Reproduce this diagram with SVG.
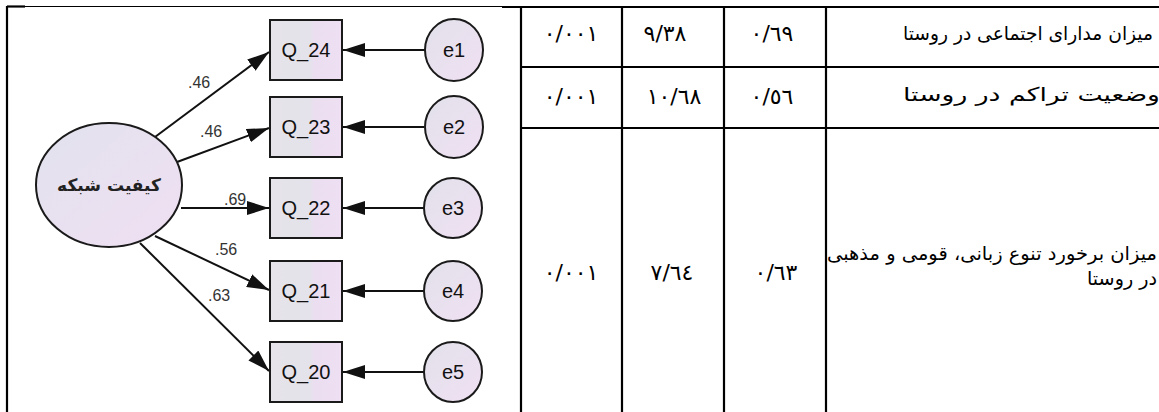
<svg xmlns="http://www.w3.org/2000/svg" width="1159" height="412" viewBox="0 0 1159 412">
<style>
.grid{stroke:#000;stroke-width:2.2;fill:none}
.box{stroke:#1a1a1a;stroke-width:2;fill:url(#boxfill)}
.err{stroke:#1a1a1a;stroke-width:2;fill:url(#cirfill)}
.lat{stroke:#1a1a1a;stroke-width:2;fill:url(#latfill)}
.con{stroke:#111;stroke-width:2;fill:none;marker-end:url(#ah)}
.lbl{font-family:"Liberation Sans",Arial,sans-serif;font-size:20px;fill:#111;text-anchor:middle}
.w{font-family:"Liberation Sans",Arial,sans-serif;font-size:16px;fill:#333}
.num{font-family:"DejaVu Sans",sans-serif;font-size:22px;fill:#000;text-anchor:middle}
.fa{font-family:"DejaVu Sans",sans-serif;font-size:19px;fill:#000;text-anchor:end}
</style>
<defs>
<linearGradient id="boxfill" x1="0" y1="0" x2="1" y2="0">
<stop offset="0" stop-color="#e6e4ea"/><stop offset="0.56" stop-color="#e4e2ea"/><stop offset="0.62" stop-color="#ecdef1"/><stop offset="1" stop-color="#eee0f2"/>
</linearGradient>
<linearGradient id="cirfill" x1="0" y1="0" x2="1" y2="1">
<stop offset="0" stop-color="#e2e1ea"/><stop offset="1" stop-color="#f0e0f3"/>
</linearGradient>
<linearGradient id="latfill" x1="0" y1="0" x2="1" y2="1">
<stop offset="0" stop-color="#e2e2ee"/><stop offset="1" stop-color="#efdff2"/>
</linearGradient>
<marker id="ah" markerUnits="userSpaceOnUse" markerWidth="22" markerHeight="14" refX="22" refY="7" orient="auto">
<path d="M0,0 L22,7 L0,14 z" fill="#111"/>
</marker>
</defs>

<g id="table">
<line class="grid" x1="7" y1="6.5" x2="25" y2="6.5"/>
<line x1="25" y1="6.5" x2="502" y2="6.5" stroke="#000" stroke-width="1"/>
<line class="grid" x1="502" y1="7" x2="1159" y2="7"/>
<line class="grid" x1="7" y1="6" x2="7" y2="412"/>
<line class="grid" x1="521" y1="7" x2="521" y2="412"/>
<line class="grid" x1="622" y1="7" x2="622" y2="412"/>
<line class="grid" x1="724" y1="7" x2="724" y2="412"/>
<line class="grid" x1="826" y1="7" x2="826" y2="412"/>
<line class="grid" x1="521" y1="67" x2="1159" y2="67"/>
<line class="grid" x1="521" y1="128" x2="1159" y2="128"/>
<text class="num" x="571" y="41">٠/٠٠١</text>
<text class="num" x="665" y="41">٩/٣٨</text>
<text class="num" x="772" y="41">٠/٦٩</text>
<text class="fa" x="1153" y="40" textLength="250" lengthAdjust="spacingAndGlyphs">میزان مدارای اجتماعی در روستا</text>
<text class="num" x="571" y="104">٠/٠٠١</text>
<text class="num" x="674" y="104">١٠/٦٨</text>
<text class="num" x="772" y="104">٠/٥٦</text>
<text class="fa" x="1160" y="101" textLength="257" lengthAdjust="spacingAndGlyphs">وضعیت تراکم در روستا</text>
<text class="num" x="571" y="280">٠/٠٠١</text>
<text class="num" x="672" y="280">٧/٦٤</text>
<text class="num" x="776" y="280">٠/٦٣</text>
<text class="fa" x="1157" y="260" textLength="330" lengthAdjust="spacingAndGlyphs">میزان برخورد تنوع زبانی، قومی و مذهبی</text>
<text class="fa" x="1157" y="285" textLength="70" lengthAdjust="spacingAndGlyphs">در روستا</text>
</g>

<g id="connectors">
<line class="con" x1="155" y1="137" x2="269" y2="52"/>
<line class="con" x1="177" y1="162" x2="269" y2="128"/>
<line class="con" x1="181" y1="208" x2="269" y2="208"/>
<line class="con" x1="155" y1="236" x2="269" y2="290"/>
<line class="con" x1="140" y1="243" x2="269" y2="371"/>
<line class="con" x1="425" y1="50" x2="343" y2="50"/>
<line class="con" x1="424" y1="127" x2="343" y2="127"/>
<line class="con" x1="424" y1="208" x2="343" y2="208"/>
<line class="con" x1="424" y1="291" x2="343" y2="291"/>
<line class="con" x1="424" y1="372" x2="343" y2="372"/>
<text class="w" x="188" y="88">.46</text>
<text class="w" x="200" y="137">.46</text>
<text class="w" x="224" y="205">.69</text>
<text class="w" x="215" y="255">.56</text>
<text class="w" x="208" y="301">.63</text>
</g>

<g id="latent">
<ellipse class="lat" cx="109" cy="185" rx="73" ry="62"/>
<text x="109" y="191" font-family="'DejaVu Sans',sans-serif" font-size="17" font-weight="bold" fill="#222" text-anchor="middle">کیفیت شبکه</text>
</g>

<g id="Q_24"><rect class="box" x="270" y="20" width="72" height="60"/><text class="lbl" x="306" y="57">Q_24</text></g>
<g id="Q_23"><rect class="box" x="270" y="97" width="72" height="60"/><text class="lbl" x="306" y="134">Q_23</text></g>
<g id="Q_22"><rect class="box" x="270" y="178" width="72" height="60"/><text class="lbl" x="306" y="215">Q_22</text></g>
<g id="Q_21"><rect class="box" x="270" y="261" width="72" height="60"/><text class="lbl" x="306" y="298">Q_21</text></g>
<g id="Q_20"><rect class="box" x="270" y="342" width="72" height="60"/><text class="lbl" x="306" y="379">Q_20</text></g>

<g id="e1"><ellipse class="err" cx="454" cy="50" rx="29" ry="31"/><text class="lbl" x="454" y="57">e1</text></g>
<g id="e2"><ellipse class="err" cx="454" cy="127" rx="29" ry="31"/><text class="lbl" x="454" y="134">e2</text></g>
<g id="e3"><ellipse class="err" cx="453" cy="208" rx="29" ry="30"/><text class="lbl" x="453" y="215">e3</text></g>
<g id="e4"><ellipse class="err" cx="453" cy="291" rx="29" ry="30"/><text class="lbl" x="453" y="298">e4</text></g>
<g id="e5"><ellipse class="err" cx="453" cy="372" rx="29" ry="30"/><text class="lbl" x="453" y="379">e5</text></g>
</svg>
